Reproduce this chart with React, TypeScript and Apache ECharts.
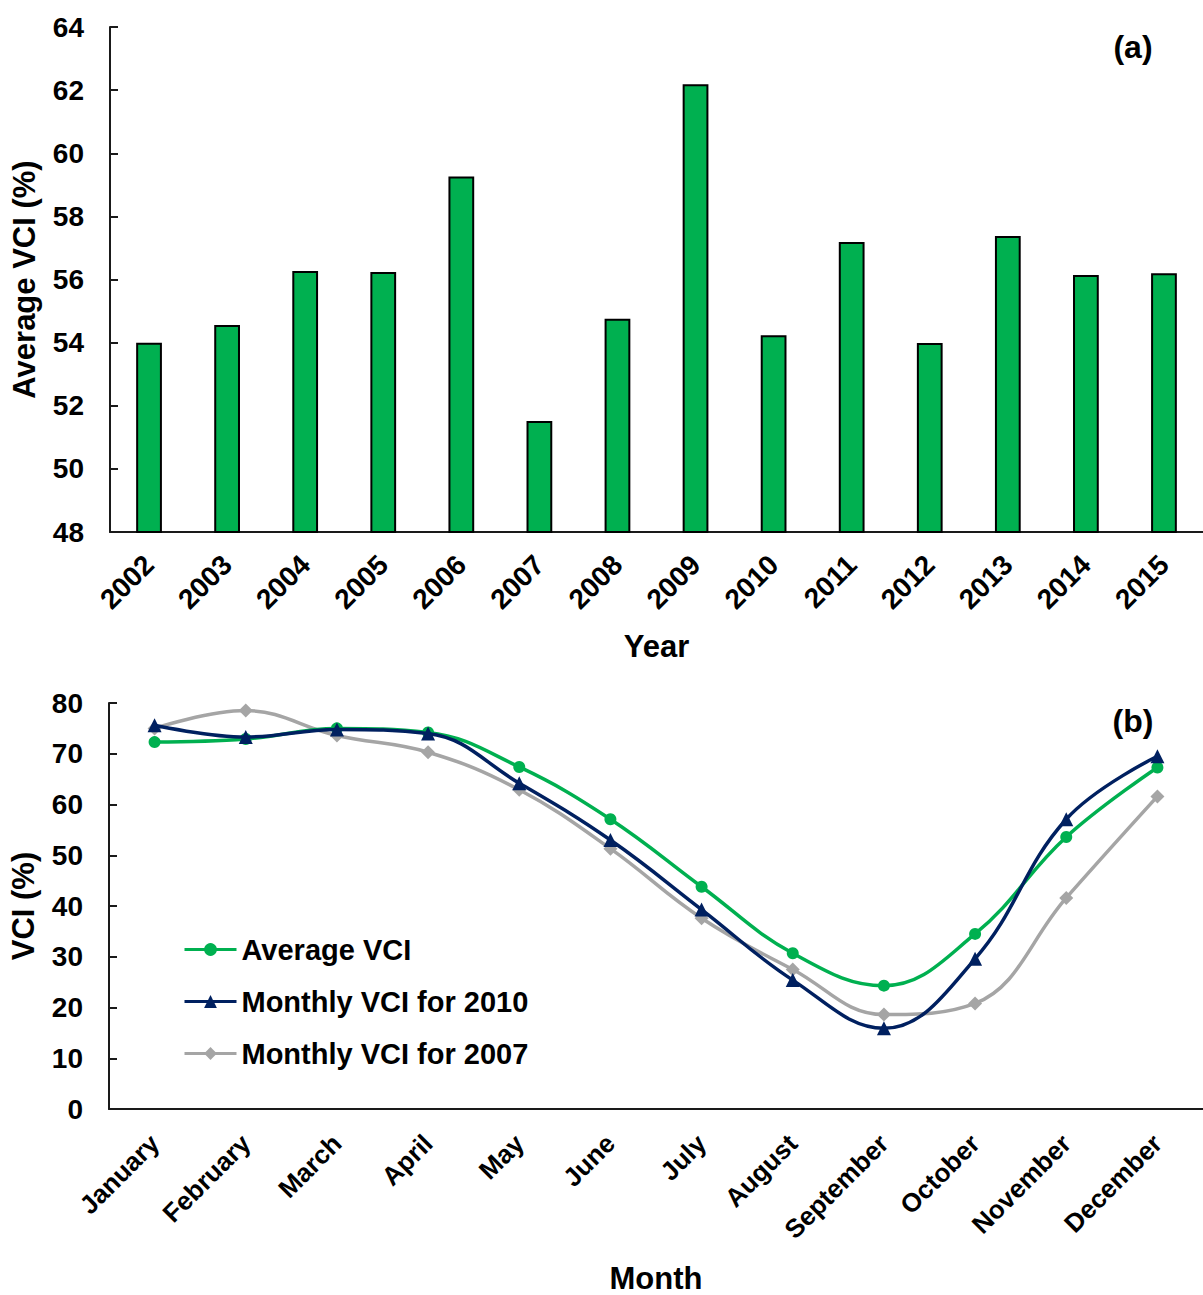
import { useEffect, useRef } from "react";
import * as echarts from "echarts";

// (a) yearly average VCI
const years = ["2002", "2003", "2004", "2005", "2006", "2007", "2008", "2009", "2010", "2011", "2012", "2013", "2014", "2015"];
const avgVciByYear = [54.0, 54.56, 56.27, 56.24, 59.26, 51.52, 54.76, 62.19, 54.23, 57.19, 53.99, 57.38, 56.14, 56.2];
const yearAxisRange = { min: 48, max: 64, interval: 2 };

// (b) monthly VCI curves
const months = ["January", "February", "March", "April", "May", "June", "July", "August", "September", "October", "November", "December"];
const averageVci = [72.3, 72.9, 75.0, 74.2, 67.4, 57.1, 43.8, 30.7, 24.3, 34.5, 53.6, 67.3];
const vci2010 = [75.6, 73.3, 74.8, 74.0, 64.2, 53.0, 39.3, 25.4, 15.9, 29.6, 57.1, 69.5];
const vci2007 = [75.0, 78.5, 73.6, 70.3, 62.9, 51.3, 37.6, 27.5, 18.6, 20.8, 41.6, 61.6];
const monthAxisRange = { min: 0, max: 80, interval: 10 };

const FONT = 'Arial, "Liberation Sans", sans-serif';
const GREEN = "#00B050";
const NAVY = "#002060";
const GRAY = "#A5A5A5";
const AXIS = "#1a1a1a";

export default function App() {
  const ref = useRef<HTMLDivElement>(null);

  useEffect(() => {
    if (!ref.current) return;
    const chart = echarts.init(ref.current, undefined, { renderer: "svg" });

    const axisLine = { show: true, lineStyle: { color: AXIS, width: 2 } };
    const tickLabel = { color: "#000", fontWeight: "bold" as const, fontSize: 28, fontFamily: FONT };
    const nameStyle = { color: "#000", fontWeight: "bold" as const, fontSize: 31, fontFamily: FONT };

    chart.setOption({
      animation: false,
      backgroundColor: "#fff",
      textStyle: { fontFamily: FONT },
      grid: [
        { left: 110, top: 27, width: 1098, height: 505, containLabel: false },
        { left: 109, top: 703, width: 1099, height: 407, containLabel: false },
      ],
      xAxis: [
        {
          type: "category",
          gridIndex: 0,
          data: years,
          axisLine,
          axisTick: { show: false },
          axisLabel: { ...tickLabel, rotate: 45, margin: 28, interval: 0 },
          name: "Year",
          nameLocation: "middle",
          nameGap: 99,
          nameTextStyle: nameStyle,
        },
        {
          type: "category",
          gridIndex: 1,
          data: months,
          boundaryGap: true,
          axisLine,
          axisTick: { show: false },
          axisLabel: { ...tickLabel, fontSize: 26, rotate: 45, margin: 30, interval: 0 },
          name: "Month",
          nameLocation: "middle",
          nameGap: 154,
          nameTextStyle: nameStyle,
        },
      ],
      yAxis: [
        {
          type: "value",
          gridIndex: 0,
          ...yearAxisRange,
          axisLine,
          axisTick: { show: true, inside: true, length: 8, lineStyle: { color: AXIS, width: 2 } },
          splitLine: { show: false },
          axisLabel: { ...tickLabel, margin: 26 },
          name: "Average VCI (%)",
          nameLocation: "middle",
          nameGap: 70,
          nameTextStyle: nameStyle,
        },
        {
          type: "value",
          gridIndex: 1,
          ...monthAxisRange,
          axisLine,
          axisTick: { show: true, inside: true, length: 8, lineStyle: { color: AXIS, width: 2 } },
          splitLine: { show: false },
          axisLabel: { ...tickLabel, margin: 26 },
          name: "VCI (%)",
          nameLocation: "middle",
          nameGap: 70,
          nameTextStyle: nameStyle,
        },
      ],
      legend: {
        orient: "vertical",
        left: 183,
        top: 935,
        padding: 0,
        itemWidth: 52,
        itemHeight: 16,
        itemGap: 23,
        lineStyle: { width: 3 },
        textStyle: { color: "#000", fontWeight: "bold", fontSize: 29, fontFamily: FONT },
        data: ["Average VCI", "Monthly VCI for 2010", "Monthly VCI for 2007"],
      },
      graphic: [
        {
          type: "text",
          x: 1133,
          y: 47,
          style: { text: "(a)", fontSize: 32, fontWeight: "bold", fontFamily: FONT, fill: "#000", align: "center", verticalAlign: "middle" },
        },
        {
          type: "text",
          x: 1133,
          y: 721,
          style: { text: "(b)", fontSize: 32, fontWeight: "bold", fontFamily: FONT, fill: "#000", align: "center", verticalAlign: "middle" },
        },
      ],
      series: [
        {
          type: "bar",
          xAxisIndex: 0,
          yAxisIndex: 0,
          data: avgVciByYear,
          barWidth: "33%",
          itemStyle: { color: GREEN, borderColor: "#000", borderWidth: 2 },
        },
        {
          name: "Average VCI",
          type: "line",
          xAxisIndex: 1,
          yAxisIndex: 1,
          data: averageVci,
          smooth: 0.4,
          symbol: "circle",
          symbolSize: 12,
          lineStyle: { color: GREEN, width: 3.5 },
          itemStyle: { color: GREEN },
          z: 3,
        },
        {
          name: "Monthly VCI for 2010",
          type: "line",
          xAxisIndex: 1,
          yAxisIndex: 1,
          data: vci2010,
          smooth: 0.4,
          symbol: "triangle",
          symbolSize: 14,
          lineStyle: { color: NAVY, width: 3.5 },
          itemStyle: { color: NAVY },
          z: 4,
        },
        {
          name: "Monthly VCI for 2007",
          type: "line",
          xAxisIndex: 1,
          yAxisIndex: 1,
          data: vci2007,
          smooth: 0.4,
          symbol: "diamond",
          symbolSize: 14,
          lineStyle: { color: GRAY, width: 3.5 },
          itemStyle: { color: GRAY },
          z: 2,
        },
      ],
    });

    return () => chart.dispose();
  }, []);

  return (
    <div
      ref={ref}
      style={{ position: "absolute", left: 0, top: 0, width: 1203, height: 1295, background: "#fff" }}
    />
  );
}
